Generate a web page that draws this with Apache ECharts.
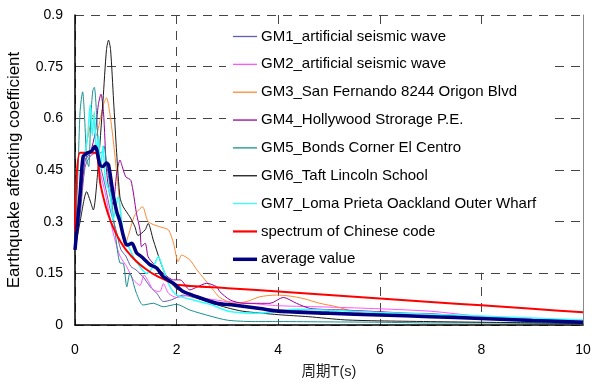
<!DOCTYPE html>
<html><head><meta charset="utf-8">
<script src="https://cdn.jsdelivr.net/npm/echarts@6/dist/echarts.min.js"></script>
<style>html,body{margin:0;padding:0;background:#fff}#c{width:593px;height:382px}</style>
</head><body><div id="c"></div>
<script>
const seriesNames = ["GM1_artificial seismic wave","GM2_artificial seismic wave","GM3_San Fernando 8244 Origon Blvd","GM4_Hollywood Strorage P.E.","GM5_Bonds Corner El Centro","GM6_Taft Lincoln School","GM7_Loma Prieta Oackland Outer Wharf","spectrum of Chinese code","average value"];
const xTicks = [0,2,4,6,8,10];
const yTicks = [0,0.15,0.3,0.45,0.6,0.75,0.9];

const gm1 = [[0.0,0.22],[0.1,0.32],[0.2,0.46],[0.3,0.49],[0.4,0.5],[0.5,0.46],[0.6,0.4],[0.7,0.33],[0.8,0.28],[0.9,0.22],[1.0,0.2],[1.1,0.17],[1.2,0.16],[1.34,0.14],[1.48,0.111],[1.61,0.092],[1.74,0.068],[1.9,0.073],[2.13,0.087],[2.33,0.08],[2.6,0.07],[3,0.058],[4,0.045],[5,0.038],[6,0.032],[7,0.026],[8,0.02],[9,0.015],[10,0.01]];
const gm2 = [[0.0,0.22],[0.1,0.35],[0.2,0.48],[0.3,0.49],[0.4,0.5],[0.5,0.44],[0.6,0.38],[0.7,0.3],[0.8,0.24],[0.886,0.2],[1.02,0.169],[1.15,0.131],[1.28,0.115],[1.36,0.145],[1.45,0.125],[1.54,0.102],[1.67,0.097],[1.74,0.12],[1.84,0.092],[2.0,0.08],[2.2,0.085],[2.4,0.08],[2.66,0.075],[3,0.068],[3.5,0.062],[4,0.056],[5,0.052],[6,0.047],[7,0.04],[8,0.025],[9,0.018],[10,0.012]];
const gm3 = [[0.0,0.22],[0.1,0.35],[0.2,0.5],[0.3,0.58],[0.35,0.61],[0.42,0.55],[0.5,0.6],[0.56,0.64],[0.62,0.66],[0.68,0.62],[0.75,0.54],[0.85,0.4],[0.92,0.29],[0.98,0.23],[1.05,0.26],[1.18,0.32],[1.33,0.343],[1.44,0.3],[1.67,0.285],[1.84,0.276],[1.94,0.237],[2.03,0.184],[2.1,0.203],[2.26,0.189],[2.4,0.16],[2.56,0.131],[2.72,0.102],[2.85,0.08],[3.12,0.063],[3.38,0.068],[3.64,0.082],[3.97,0.087],[4.23,0.084],[4.49,0.077],[4.82,0.063],[5.15,0.053],[5.48,0.039],[5.81,0.032],[7,0.025],[8,0.018],[9,0.013],[10,0.01]];
const gm4 = [[0.0,0.22],[0.1,0.35],[0.2,0.48],[0.3,0.5],[0.4,0.56],[0.46,0.64],[0.51,0.67],[0.56,0.62],[0.62,0.45],[0.68,0.38],[0.75,0.35],[0.82,0.44],[0.886,0.479],[0.93,0.46],[1.0,0.43],[1.1,0.42],[1.21,0.324],[1.28,0.276],[1.31,0.227],[1.38,0.238],[1.44,0.198],[1.54,0.179],[1.74,0.15],[1.94,0.131],[2.07,0.131],[2.26,0.102],[2.4,0.11],[2.59,0.121],[2.79,0.111],[2.85,0.097],[3.05,0.073],[3.31,0.063],[3.84,0.063],[4.1,0.08],[4.36,0.063],[4.63,0.048],[5.28,0.0435],[5.94,0.039],[6.59,0.034],[7,0.033],[8,0.02],[8.5,0.015],[9,0.012],[10,0.008]];
const gm5 = [[0.0,0.22],[0.06,0.45],[0.1,0.62],[0.15,0.677],[0.19,0.6],[0.23,0.48],[0.27,0.46],[0.31,0.6],[0.35,0.68],[0.38,0.69],[0.43,0.6],[0.47,0.5],[0.52,0.5],[0.57,0.52],[0.62,0.47],[0.69,0.4],[0.79,0.27],[0.886,0.18],[0.95,0.179],[1.02,0.111],[1.08,0.15],[1.21,0.092],[1.34,0.058],[1.54,0.063],[1.74,0.053],[2.0,0.06],[2.26,0.0435],[2.66,0.026],[3,0.014],[3.5,0.01],[4,0.01],[5,0.009],[6,0.008],[7,0.006],[8,0.006],[9,0.005],[10,0.004]];
const gm6 = [[0.0,0.218],[0.1,0.3],[0.23,0.387],[0.3,0.36],[0.36,0.334],[0.45,0.45],[0.55,0.65],[0.62,0.8],[0.66,0.827],[0.7,0.8],[0.76,0.65],[0.82,0.5],[0.886,0.37],[0.95,0.343],[1.08,0.314],[1.18,0.285],[1.24,0.26],[1.38,0.276],[1.44,0.295],[1.54,0.247],[1.67,0.189],[1.8,0.14],[2.0,0.105],[2.3,0.085],[2.66,0.065],[3.0,0.05],[3.3,0.04],[4,0.03],[4.6,0.024],[5.3,0.015],[6,0.012],[8,0.008],[10,0.005]];
const gm7 = [[0.0,0.22],[0.1,0.38],[0.15,0.45],[0.2,0.5],[0.25,0.55],[0.3,0.64],[0.34,0.55],[0.38,0.62],[0.42,0.5],[0.46,0.55],[0.5,0.45],[0.55,0.52],[0.6,0.42],[0.69,0.382],[0.75,0.305],[0.85,0.372],[0.95,0.266],[1.02,0.24],[1.08,0.22],[1.15,0.198],[1.28,0.169],[1.41,0.15],[1.54,0.169],[1.64,0.198],[1.74,0.16],[1.87,0.111],[2.0,0.087],[2.33,0.0726],[2.66,0.06],[3.05,0.039],[3.58,0.034],[3.97,0.039],[4.36,0.0455],[4.89,0.0435],[6,0.036],[7.45,0.029],[9,0.02],[10,0.0145]];
const codeSpectrum = [[0.0,0.27],[0.1,0.5],[0.4,0.5],[0.5,0.409],[0.6,0.347],[0.7,0.302],[0.8,0.268],[0.9,0.241],[1.0,0.219],[1.2,0.186],[1.4,0.162],[1.6,0.143],[1.8,0.129],[2.0,0.117],[3,0.107],[4,0.097],[5,0.087],[6,0.077],[7,0.067],[8,0.057],[9,0.047],[10,0.037]];
const average = [[0.0,0.218],[0.1,0.38],[0.16,0.489],[0.25,0.5],[0.33,0.505],[0.39,0.518],[0.43,0.508],[0.49,0.465],[0.55,0.46],[0.62,0.47],[0.66,0.465],[0.72,0.41],[0.75,0.38],[0.82,0.33],[0.886,0.3],[0.95,0.26],[1.02,0.232],[1.12,0.237],[1.21,0.21],[1.31,0.198],[1.48,0.175],[1.61,0.165],[1.74,0.14],[1.94,0.121],[2.13,0.097],[2.4,0.082],[2.79,0.063],[3.12,0.058],[3.64,0.048],[4,0.04],[5,0.034],[6,0.029],[7,0.024],[8,0.019],[9,0.013],[10,0.008]];

const dataList = [gm1,gm2,gm3,gm4,gm5,gm6,gm7,codeSpectrum,average];
const colors = ["#5f5fae","#ff55ff","#ff8833","#990099","#1a9090","#1a1a1a","#33ffff","#ff0000","#000080"];
const widths = [1,1,1,1,1,1,1.5,2,3.5];

const FONT = "'Liberation Sans', Arial, 'Noto Sans CJK SC', sans-serif";
const chart = echarts.init(document.getElementById('c'));
chart.setOption({
  animation:false,
  backgroundColor:'#fff',
  textStyle:{fontFamily:FONT},
  grid:{left:75,right:10,top:15,bottom:57,containLabel:false,outerBoundsMode:'none'},
  legend:{
    orient:'vertical', left:226, top:25, itemWidth:24, itemHeight:15, itemGap:12.85,
    backgroundColor:'#fff', padding:[4,12,6,7],
    textStyle:{fontSize:15,color:'#000',fontFamily:FONT,padding:[0,0,0,-1]},
    data:seriesNames.map((n,i)=>({name:n, icon: i===8 ? 'path://M0,0h24v3.5h-24z' : (i===7 ? 'path://M0,0h24v2.2h-24z' : 'path://M0,0h24v1.3h-24z')}))
  },
  xAxis:{
    type:'value', min:0, max:10, interval:2,
    name:'周期T(s)', nameLocation:'middle', nameGap:40,
    nameTextStyle:{fontSize:14.5,color:'#222',fontFamily:FONT},
    axisLine:{lineStyle:{color:'#000',width:1.5}},
    axisTick:{show:false},
    axisLabel:{fontSize:14,color:'#000',margin:18,formatter:v=>xTicks.includes(v)?String(v):''},
    splitLine:{show:true,lineStyle:{color:'#444',type:[9,7],width:1}}
  },
  yAxis:[{
    type:'value', min:0, max:0.9, interval:0.15,
    name:'Earthquake affecting coefficient', nameLocation:'middle', nameGap:52,
    nameTextStyle:{fontSize:17,color:'#000',fontFamily:FONT},
    axisLine:{show:true,lineStyle:{color:'#000',width:1.5}},
    axisTick:{show:false},
    axisLabel:{fontSize:14,color:'#000',margin:12,formatter:v=>{const t=yTicks.find(k=>Math.abs(k-v)<1e-6);return t===undefined?'':String(t);}},
    splitLine:{show:true,lineStyle:{color:'#444',type:[9,7],width:1}}
  },{
    type:'value', min:0, max:0.9, interval:0.15, position:'right',
    axisLine:{show:true,lineStyle:{color:'#888',width:1}},
    axisTick:{show:false}, axisLabel:{show:false}, splitLine:{show:false}
  }],
  series: seriesNames.map((n,i)=>({
    name:n, type:'line', data:dataList[i], showSymbol:false, symbol:'none',
    smooth:0.25, z: i>=7 ? 5 : 3,
    lineStyle:{color:colors[i],width:widths[i]}, itemStyle:{color:colors[i]}
  }))
});
</script></body></html>
